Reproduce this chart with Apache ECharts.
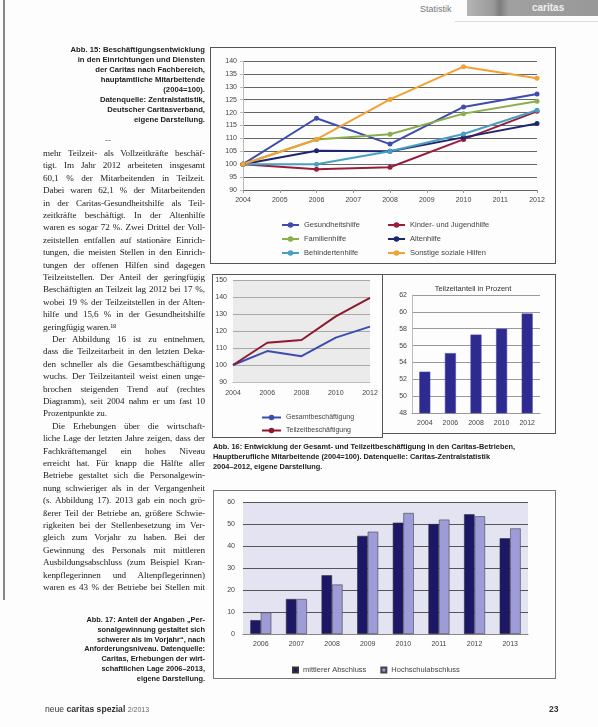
<!DOCTYPE html>
<html>
<head>
<meta charset="utf-8">
<script src="https://cdn.jsdelivr.net/npm/echarts@6/dist/echarts.min.js"></script>
<style>
    html, body { margin: 0; padding: 0; background: #fff; }
    #page { position: relative; width: 598px; height: 727px; overflow: hidden; background: #fdfdfd; }
    #chart { position: absolute; left: 0; top: 0; width: 598px; height: 727px; }
    .box { position: absolute; border: 1px solid #555; box-sizing: border-box; }
    .body-line { position: absolute; left: 43px; width: 162px; white-space: nowrap;
        font-family: "Liberation Serif", "DejaVu Serif", serif; font-size: 9.1px; color: #222;
        text-align: justify; text-align-last: justify; line-height: 12px; letter-spacing: -0.1px; }
    .body-line.last { text-align-last: left; }
    .cap { position: absolute; font-family: "Liberation Sans", Arial, sans-serif; font-weight: bold;
        font-size: 7.4px; color: #222; line-height: 10px; white-space: nowrap; }
    .cap.right { text-align: right; }
</style>
</head>
<body>
<div id="page">
    <!-- linker Rand vom Scan -->
    <div style="position:absolute;left:3px;top:0;width:2px;height:600px;background:#888;"></div>
    <div style="position:absolute;left:105px;top:140px;width:6px;height:1px;background:#aaa;"></div>

    <!-- Kopfzeile -->
    <div style="position:absolute;left:420px;top:4px;font:9px 'Liberation Sans',sans-serif;color:#777;">Statistik</div>
    <div style="position:absolute;left:467px;top:0;width:131px;height:16px;background:linear-gradient(90deg,#b4b4b4 0%,#9a9a9a 20%,#7d7d7d 25%,#a0a0a0 32%,#999 100%);"></div>
    <div style="position:absolute;left:532px;top:2px;font:bold 10px 'Liberation Sans',sans-serif;color:#eee;">caritas</div>
    <div style="position:absolute;left:455px;top:21px;width:143px;height:1px;background:#ddd;"></div>

    <!-- Rahmen der Diagramme -->
    <div class="box" style="left:210px;top:47px;width:346px;height:217px;"></div>
    <div class="box" style="left:212px;top:274px;width:171px;height:164px;"></div>
    <div class="box" style="left:382px;top:274px;width:174px;height:160px;"></div>
    <div class="box" style="left:213px;top:490px;width:343px;height:189px;border-color:#777;"></div>

    <div id="chart"></div>
    <div id="texts"></div>
</div>

<script>
    // --- Abb. 15: Beschäftigungsentwicklung nach Fachbereich (2004=100)
    var years1 = ['2004', '2005', '2006', '2007', '2008', '2009', '2010', '2011', '2012'];
    var gesundheitshilfe = [100, null, 117.8, null, 107.8, null, 122.2, null, 127.2];
    var kinderJugendhilfe = [100, null, 98, null, 98.8, null, 109.6, null, 120.5];
    var familienhilfe = [100, null, 109.6, null, 111.6, null, 119.6, null, 124.4];
    var altenhilfe = [100, null, 105.2, null, 105, null, 110.4, null, 115.8];
    var behindertenhilfe = [100, null, 100, null, 105, null, 111.7, null, 120.9];
    var sonstigeHilfen = [100, null, 109.6, null, 125.1, null, 137.8, null, 133.3];

    // --- Abb. 16: Gesamt- und Teilzeitbeschäftigung
    var years2 = ['2004', '2006', '2008', '2010', '2012'];
    var gesamtbeschaeftigung = [100, 108.2, 105.2, 116.1, 122.6];
    var teilzeitbeschaeftigung = [100, 113.1, 114.7, 128.6, 139.5];
    var teilzeitanteil = [52.9, 55.1, 57.3, 58.0, 59.8];

    // --- Abb. 17: Personalgewinnung schwerer als im Vorjahr
    var years3 = ['2006', '2007', '2008', '2009', '2010', '2011', '2012', '2013'];
    var mittlererAbschluss = [6.3, 15.9, 26.7, 44.6, 50.6, 50.0, 54.4, 43.5];
    var hochschulabschluss = [9.8, 15.9, 22.5, 46.5, 55.0, 52.0, 53.5, 48.0];

    var bodyLines = [
        ['mehr Teilzeit- als Vollzeitkräfte beschäf-', 0],
        ['tigt. Im Jahr 2012 arbeiteten insgesamt', 0],
        ['60,1 % der Mitarbeitenden in Teilzeit.', 0],
        ['Dabei waren 62,1 % der Mitarbeitenden', 0],
        ['in der Caritas-Gesundheitshilfe als Teil-', 0],
        ['zeitkräfte beschäftigt. In der Altenhilfe', 0],
        ['waren es sogar 72 %. Zwei Drittel der Voll-', 0],
        ['zeitstellen entfallen auf stationäre Einrich-', 0],
        ['tungen, die meisten Stellen in den Einrich-', 0],
        ['tungen der offenen Hilfen sind dagegen', 0],
        ['Teilzeitstellen. Der Anteil der geringfügig', 0],
        ['Beschäftigten an Teilzeit lag 2012 bei 17 %,', 0],
        ['wobei 19 % der Teilzeitstellen in der Alten-', 0],
        ['hilfe und 15,6 % in der Gesundheitshilfe', 0],
        ['geringfügig waren.¹⁸', 2],
        ['Der Abbildung 16 ist zu entnehmen,', 1],
        ['dass die Teilzeitarbeit in den letzten Deka-', 0],
        ['den schneller als die Gesamtbeschäftigung', 0],
        ['wuchs. Der Teilzeitanteil weist einen unge-', 0],
        ['brochen steigenden Trend auf (rechtes', 0],
        ['Diagramm), seit 2004 nahm er um fast 10', 0],
        ['Prozentpunkte zu.', 2],
        ['Die Erhebungen über die wirtschaft-', 1],
        ['liche Lage der letzten Jahre zeigen, dass der', 0],
        ['Fachkräftemangel ein hohes Niveau', 0],
        ['erreicht hat. Für knapp die Hälfte aller', 0],
        ['Betriebe gestaltet sich die Personalgewin-', 0],
        ['nung schwieriger als in der Vergangenheit', 0],
        ['(s. Abbildung 17). 2013 gab ein noch grö-', 0],
        ['ßerer Teil der Betriebe an, größere Schwie-', 0],
        ['rigkeiten bei der Stellenbesetzung im Ver-', 0],
        ['gleich zum Vorjahr zu haben. Bei der', 0],
        ['Gewinnung des Personals mit mittleren', 0],
        ['Ausbildungsabschluss (zum Beispiel Kran-', 0],
        ['kenpflegerinnen und Altenpflegerinnen)', 0],
        ['waren es 43 % der Betriebe bei Stellen mit', 0]
    ];

    var cap15 = ['Abb. 15: Beschäftigungsentwicklung', 'in den Einrichtungen und Diensten',
        'der Caritas nach Fachbereich,', 'hauptamtliche Mitarbeitende', '(2004=100).',
        'Datenquelle: Zentralstatistik,', 'Deutscher Caritasverband,', 'eigene Darstellung.'];
    var cap16 = ['Abb. 16: Entwicklung der Gesamt- und Teilzeitbeschäftigung in den Caritas-Betrieben,',
        'Hauptberufliche Mitarbeitende (2004=100). Datenquelle: Caritas-Zentralstatistik',
        '2004–2012, eigene Darstellung.'];
    var cap17 = ['Abb. 17: Anteil der Angaben „Per-', 'sonalgewinnung gestaltet sich',
        'schwerer als im Vorjahr“, nach', 'Anforderungsniveau. Datenquelle:',
        'Caritas, Erhebungen der wirt-', 'schaftlichen Lage 2006–2013,', 'eigene Darstellung.'];

    // Texte der Seite
    var html = '';
    bodyLines.forEach(function (l, i) {
        var top = 147 + i * 12.4;
        var cls = 'body-line' + (l[1] === 2 ? ' last' : '');
        var indent = l[1] === 1 ? 'padding-left:9px;width:153px;' : '';
        html += '<div class="' + cls + '" style="top:' + top + 'px;' + indent + '">' + l[0] + '</div>';
    });
    cap15.forEach(function (t, i) {
        html += '<div class="cap right" style="right:393px;font-size:7.7px;top:' + (45 + i * 10) + 'px;">' + t + '</div>';
    });
    cap16.forEach(function (t, i) {
        html += '<div class="cap" style="left:213px;top:' + (442 + i * 10) + 'px;">' + t + '</div>';
    });
    cap17.forEach(function (t, i) {
        html += '<div class="cap right" style="right:393px;top:' + (615 + i * 9.8) + 'px;">' + t + '</div>';
    });
    html += '<div style="position:absolute;left:45px;top:704px;font:8.6px \'Liberation Sans\',sans-serif;color:#333;">neue <b>caritas spezial</b> <span style="font-size:7px;color:#666">2/2013</span></div>';
    html += '<div style="position:absolute;left:549px;top:704px;font:bold 8.6px \'Liberation Sans\',sans-serif;color:#333;">23</div>';
    document.getElementById('texts').innerHTML = html;

    var chart = echarts.init(document.getElementById('chart'), null, {renderer: 'canvas'});
    var font = 'Liberation Sans';
    var lbl = {fontSize: 7, color: '#444', fontFamily: font};

    function lineSeries(name, data, color, x, y, withSymbol) {
        return {
            name: name,
            type: 'line',
            xAxisIndex: x,
            yAxisIndex: y,
            data: data,
            connectNulls: true,
            symbol: withSymbol ? 'circle' : 'none',
            symbolSize: 5,
            color: color,
            lineStyle: {width: 2, color: color},
            itemStyle: {color: color},
            animation: false
        };
    }

    var option = {
        animation: false,
        grid: [
            {left: 243, top: 61, width: 294, height: 129},
            {left: 233, top: 280, width: 137, height: 102, show: true, backgroundColor: '#ebebeb', borderWidth: 0},
            {left: 412, top: 295, width: 128, height: 118},
            {left: 243, top: 502, width: 285, height: 132, show: true, backgroundColor: '#e3e3f1', borderWidth: 0}
        ],
        title: {
            text: 'Teilzeitanteil in Prozent',
            left: 468, top: 280, textAlign: 'center',
            textStyle: {fontSize: 7.5, fontWeight: 'normal', color: '#333', fontFamily: font}
        },
        legend: [
            {
                data: ['Gesundheitshilfe', 'Familienhilfe', 'Behindertenhilfe'],
                orient: 'vertical', left: 276, top: 216, itemGap: 6, itemWidth: 17, itemHeight: 7,
                textStyle: Object.assign({}, lbl, {fontSize: 7.5})
            },
            {
                data: ['Kinder- und Jugendhilfe', 'Altenhilfe', 'Sonstige soziale Hilfen'],
                orient: 'vertical', left: 382, top: 216, itemGap: 6, itemWidth: 17, itemHeight: 7,
                textStyle: Object.assign({}, lbl, {fontSize: 7.5})
            },
            {
                data: ['Gesamtbeschäftigung', 'Teilzeitbeschäftigung'],
                orient: 'vertical', left: 256, top: 409, itemGap: 6, itemWidth: 19, itemHeight: 7,
                textStyle: lbl
            },
            {
                data: ['mittlerer Abschluss', 'Hochschulabschluss'],
                orient: 'horizontal', left: 287, top: 661, itemGap: 14, itemWidth: 5, itemHeight: 5,
                icon: 'rect', textStyle: Object.assign({}, lbl, {fontSize: 7.5})
            }
        ],
        xAxis: [
            {
                gridIndex: 0, type: 'category', data: years1, boundaryGap: false,
                axisLine: {show: false}, axisTick: {show: true, length: 3, lineStyle: {color: '#999'}},
                axisLabel: Object.assign({interval: 0, margin: 7}, lbl)
            },
            {
                gridIndex: 1, type: 'category', data: years2, boundaryGap: false,
                axisLine: {show: true, lineStyle: {color: '#bbb'}}, axisTick: {show: false},
                axisLabel: Object.assign({interval: 0, margin: 8}, lbl)
            },
            {
                gridIndex: 2, type: 'category', data: years2,
                axisLine: {show: true, lineStyle: {color: '#999'}}, axisTick: {show: false},
                axisLabel: Object.assign({interval: 0, margin: 7}, lbl)
            },
            {
                gridIndex: 3, type: 'category', data: years3,
                axisLine: {show: true, lineStyle: {color: '#888'}}, axisTick: {show: false},
                axisLabel: Object.assign({interval: 0, margin: 7}, lbl)
            }
        ],
        yAxis: [
            {
                gridIndex: 0, type: 'value', min: 90, max: 140, interval: 5,
                axisLine: {show: true, lineStyle: {color: '#bbb'}},
                axisTick: {show: true, length: 3, lineStyle: {color: '#bbb'}},
                splitLine: {lineStyle: {color: '#666', width: 1}},
                axisLabel: Object.assign({margin: 6}, lbl)
            },
            {
                gridIndex: 1, type: 'value', min: 90, max: 150, interval: 10,
                axisLine: {show: false}, axisTick: {show: false},
                splitLine: {lineStyle: {color: '#a8a8a8', width: 1}},
                axisLabel: Object.assign({margin: 6}, lbl)
            },
            {
                gridIndex: 2, type: 'value', min: 48, max: 62, interval: 2,
                axisLine: {show: true, lineStyle: {color: '#bbb'}}, axisTick: {show: false},
                splitLine: {lineStyle: {color: '#999', width: 1}},
                axisLabel: Object.assign({margin: 5}, lbl)
            },
            {
                gridIndex: 3, type: 'value', min: 0, max: 60, interval: 10,
                axisLine: {show: false}, axisTick: {show: false},
                splitLine: {lineStyle: {color: '#555', width: 1}},
                axisLabel: Object.assign({margin: 8}, lbl)
            }
        ],
        series: [
            lineSeries('Gesundheitshilfe', gesundheitshilfe, '#3d4cae', 0, 0, true),
            lineSeries('Kinder- und Jugendhilfe', kinderJugendhilfe, '#9a1c3c', 0, 0, true),
            lineSeries('Familienhilfe', familienhilfe, '#8aae4c', 0, 0, true),
            lineSeries('Altenhilfe', altenhilfe, '#1f276c', 0, 0, true),
            lineSeries('Behindertenhilfe', behindertenhilfe, '#47a0c2', 0, 0, true),
            lineSeries('Sonstige soziale Hilfen', sonstigeHilfen, '#f0a236', 0, 0, true),

            lineSeries('Gesamtbeschäftigung', gesamtbeschaeftigung, '#3d4cb0', 1, 1, false),
            lineSeries('Teilzeitbeschäftigung', teilzeitbeschaeftigung, '#8c1a2c', 1, 1, false),

            {
                name: 'Teilzeitanteil', type: 'bar', xAxisIndex: 2, yAxisIndex: 2,
                data: teilzeitanteil, barWidth: 11,
                itemStyle: {color: '#2d2a90', borderColor: '#4a46b8', borderWidth: 0.5}
            },
            {
                name: 'mittlerer Abschluss', type: 'bar', xAxisIndex: 3, yAxisIndex: 3,
                data: mittlererAbschluss, barWidth: 10.5, barGap: '0%',
                itemStyle: {color: '#1c1766', borderColor: '#333', borderWidth: 0.6}
            },
            {
                name: 'Hochschulabschluss', type: 'bar', xAxisIndex: 3, yAxisIndex: 3,
                data: hochschulabschluss, barWidth: 10.5, barGap: '0%',
                itemStyle: {color: '#9d9bd8', borderColor: '#444', borderWidth: 0.6}
            }
        ]
    };

    chart.setOption(option);
</script>
</body>
</html>
